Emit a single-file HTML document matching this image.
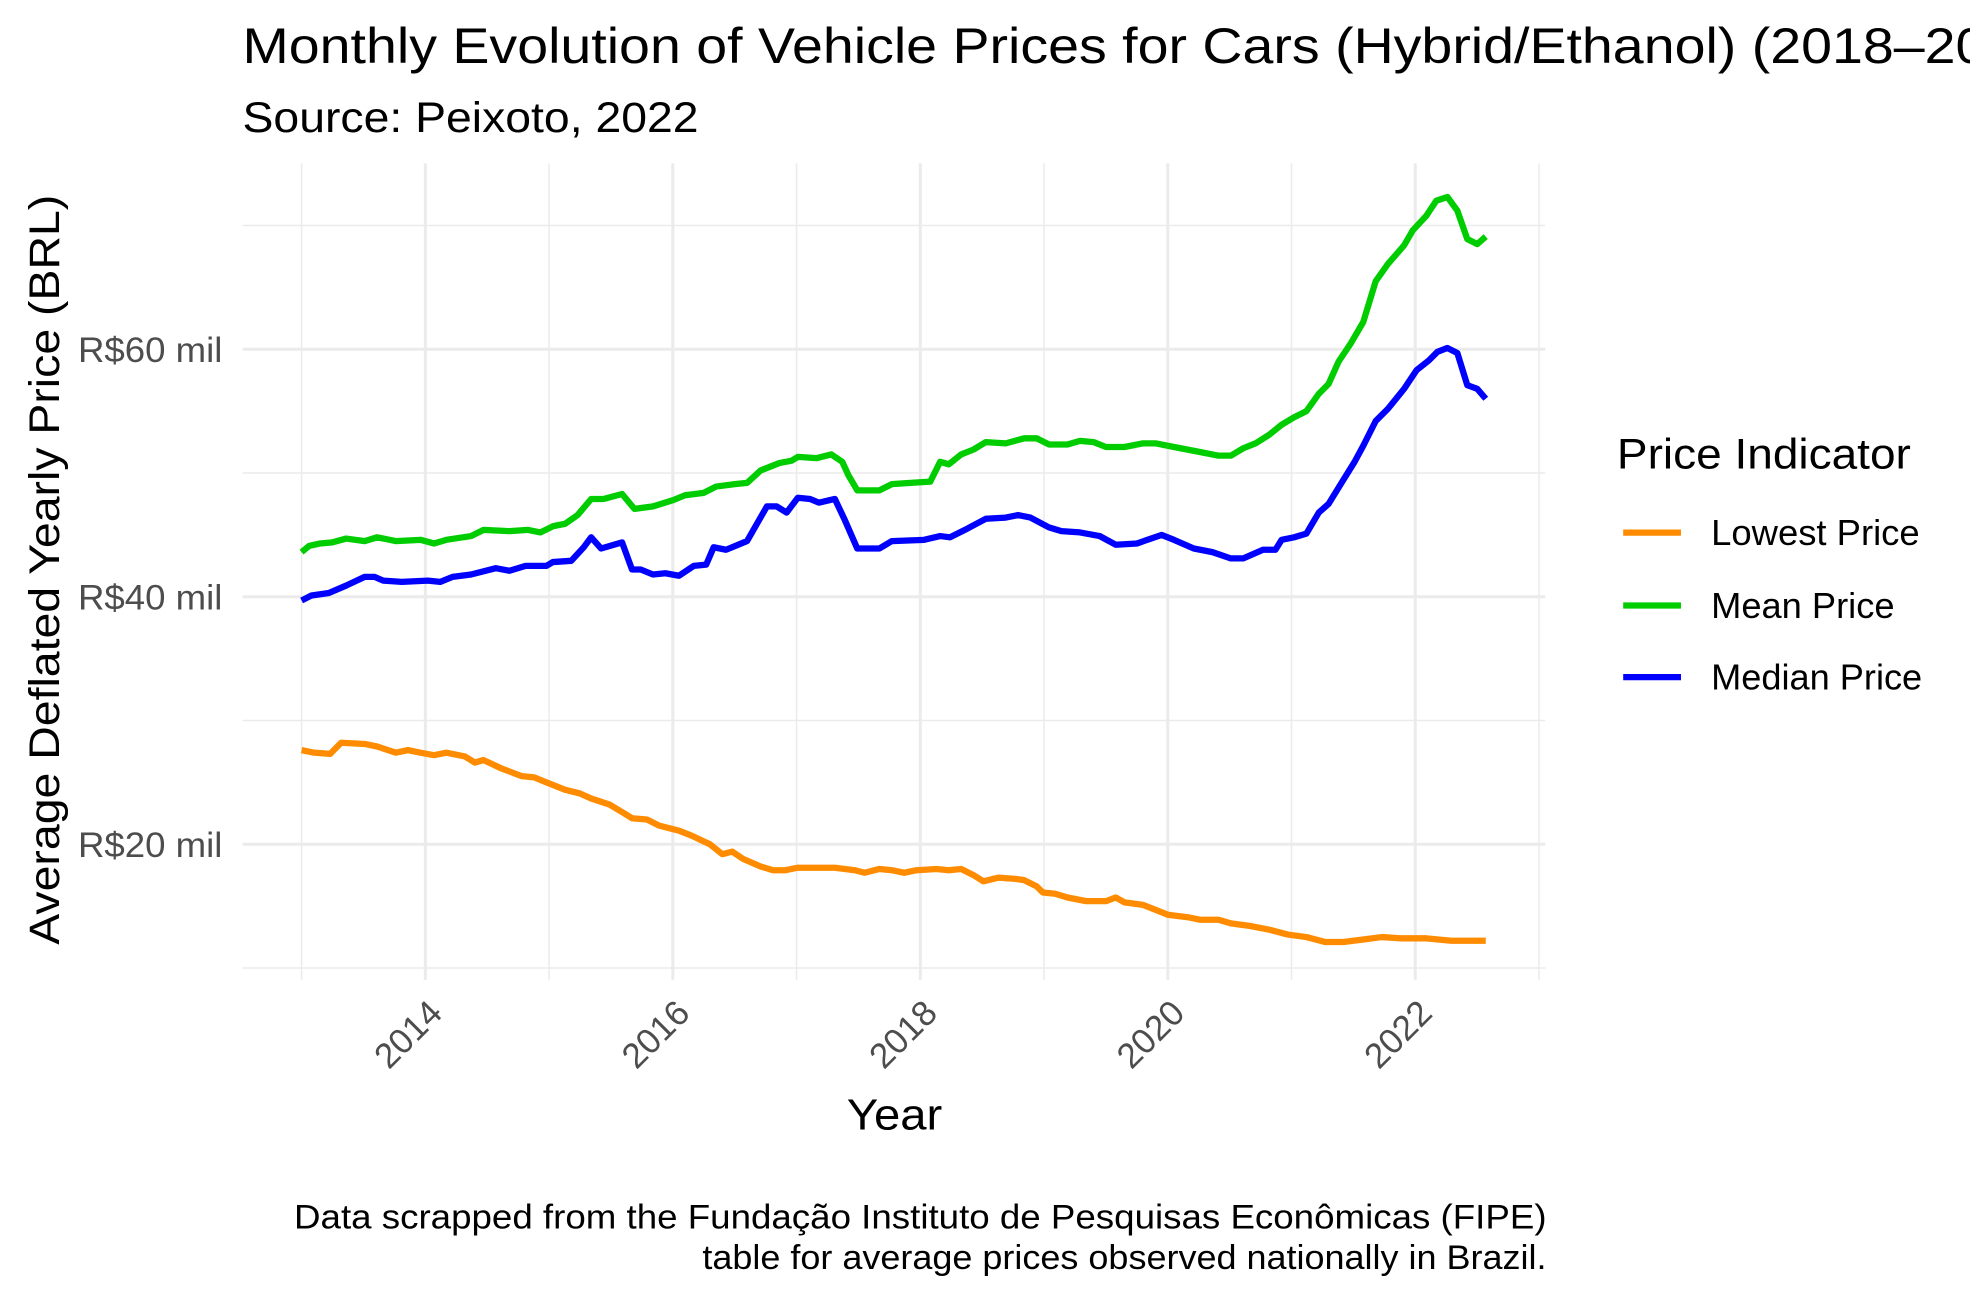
<!DOCTYPE html>
<html><head><meta charset="utf-8">
<style>
html,body{margin:0;padding:0;background:#fff;}
svg{display:block;font-family:"Liberation Sans",Arial,sans-serif;}
</style></head>
<body>
<svg id="chart" width="1970" height="1299" viewBox="0 0 1568 1034" xmlns="http://www.w3.org/2000/svg">
<rect width="1568" height="1034" fill="#fff"/>
<g id="grid"></g>
<g id="series"></g>
<g id="axes"></g>
<text x="193" y="50" font-size="40" fill="#000" textLength="1452" lengthAdjust="spacingAndGlyphs">Monthly Evolution of Vehicle Prices for Cars (Hybrid/Ethanol) (2018–2022)</text>
<text x="193" y="105" font-size="34" fill="#000" textLength="363" lengthAdjust="spacingAndGlyphs">Source: Peixoto, 2022</text>
<text x="674" y="899" font-size="35" fill="#000" textLength="76" lengthAdjust="spacingAndGlyphs">Year</text>
<text transform="translate(47,752) rotate(-90)" font-size="34" fill="#000" textLength="597" lengthAdjust="spacingAndGlyphs">Average Deflated Yearly Price (BRL)</text>
<text x="1287" y="373" font-size="34" fill="#000" textLength="234" lengthAdjust="spacingAndGlyphs">Price Indicator</text>
<g><line x1="1292" x2="1338" y1="424" y2="424" stroke="#FF8C00" stroke-width="5"/><text x="1362" y="434" font-size="29" textLength="166" lengthAdjust="spacingAndGlyphs">Lowest Price</text></g>
<g><line x1="1292" x2="1338" y1="482" y2="482" stroke="#00CD00" stroke-width="5"/><text x="1362" y="492" font-size="29" textLength="146" lengthAdjust="spacingAndGlyphs">Mean Price</text></g>
<g><line x1="1292" x2="1338" y1="539" y2="539" stroke="#0000FF" stroke-width="5"/><text x="1362" y="549" font-size="29" textLength="168" lengthAdjust="spacingAndGlyphs">Median Price</text></g>
<text x="234" y="978" font-size="27.5" fill="#000" textLength="997" lengthAdjust="spacingAndGlyphs">Data scrapped from the Fundação Instituto de Pesquisas Econômicas (FIPE)</text>
<text x="559" y="1010" font-size="27.5" fill="#000" textLength="672" lengthAdjust="spacingAndGlyphs">table for average prices observed nationally in Brazil.</text>
</svg>
<script>
// time in years since Jan 2013
const meanT=[0,.06,.15,.25,.36,.51,.61,.76,.96,1.07,1.17,1.37,1.47,1.68,1.83,1.93,2.03,2.13,2.23,2.34,2.44,2.59,2.69,2.84,3.0,3.1,3.25,3.35,3.5,3.6,3.71,3.86,3.96,4.01,4.16,4.28,4.37,4.42,4.49,4.67,4.77,4.92,5.08,5.16,5.23,5.33,5.43,5.53,5.69,5.84,5.94,6.04,6.19,6.29,6.4,6.5,6.65,6.8,6.9,7.05,7.26,7.41,7.51,7.61,7.71,7.82,7.92,8.02,8.12,8.22,8.3,8.38,8.48,8.58,8.68,8.78,8.91,8.98,9.09,9.17,9.26,9.34,9.42,9.5,9.57];
const meanV=[43.6,44.1,44.3,44.4,44.7,44.5,44.8,44.5,44.6,44.3,44.6,44.9,45.4,45.3,45.4,45.2,45.7,45.9,46.6,47.9,47.9,48.3,47.1,47.3,47.8,48.2,48.4,48.9,49.1,49.2,50.2,50.8,51.0,51.3,51.2,51.5,50.9,49.8,48.6,48.6,49.1,49.2,49.3,50.9,50.7,51.5,51.9,52.5,52.4,52.8,52.8,52.3,52.3,52.6,52.5,52.1,52.1,52.4,52.4,52.1,51.7,51.4,51.4,52.0,52.4,53.1,53.9,54.5,55.0,56.4,57.2,59.0,60.5,62.2,65.5,66.9,68.4,69.6,70.8,72.0,72.3,71.2,68.9,68.5,69.1];
const medianT=[0,.08,.22,.36,.51,.59,.66,.81,1.02,1.12,1.22,1.37,1.57,1.68,1.81,1.98,2.03,2.18,2.28,2.34,2.42,2.59,2.67,2.74,2.84,2.94,3.05,3.17,3.27,3.33,3.43,3.6,3.76,3.84,3.92,4.01,4.11,4.18,4.31,4.39,4.49,4.67,4.77,5.03,5.16,5.24,5.38,5.53,5.69,5.79,5.89,6.04,6.14,6.29,6.45,6.58,6.75,6.95,7.05,7.21,7.36,7.51,7.61,7.77,7.87,7.92,8.02,8.12,8.22,8.3,8.41,8.51,8.58,8.68,8.78,8.91,9.01,9.11,9.18,9.26,9.34,9.42,9.5,9.57];
const medianV=[39.7,40.1,40.3,40.9,41.6,41.6,41.3,41.2,41.3,41.2,41.6,41.8,42.3,42.1,42.5,42.5,42.8,42.9,44.0,44.8,43.9,44.4,42.2,42.2,41.8,41.9,41.7,42.5,42.6,44.0,43.8,44.5,47.3,47.3,46.8,48.0,47.9,47.6,47.9,46.2,43.9,43.9,44.5,44.6,44.9,44.8,45.5,46.3,46.4,46.6,46.4,45.6,45.3,45.2,44.9,44.2,44.3,45.0,44.6,43.9,43.6,43.1,43.1,43.8,43.8,44.6,44.8,45.1,46.8,47.5,49.3,50.9,52.2,54.2,55.2,56.8,58.3,59.1,59.8,60.1,59.7,57.1,56.8,56.0];
const lowT=[0,.1,.23,.32,.51,.61,.76,.86,.96,1.07,1.17,1.32,1.4,1.47,1.62,1.78,1.88,1.98,2.13,2.25,2.34,2.49,2.59,2.67,2.79,2.89,3.05,3.15,3.3,3.4,3.48,3.57,3.71,3.81,3.91,4.01,4.31,4.47,4.55,4.67,4.77,4.87,4.97,5.13,5.23,5.33,5.43,5.51,5.63,5.77,5.84,5.94,5.99,6.09,6.19,6.34,6.5,6.58,6.65,6.8,6.9,7.0,7.16,7.26,7.41,7.51,7.66,7.82,7.97,8.12,8.27,8.42,8.58,8.73,8.88,9.09,9.29,9.57];
const lowV=[27.6,27.4,27.3,28.2,28.1,27.9,27.4,27.6,27.4,27.2,27.4,27.1,26.6,26.8,26.1,25.5,25.4,25.0,24.4,24.1,23.7,23.2,22.6,22.1,22.0,21.5,21.1,20.7,20.0,19.2,19.4,18.8,18.2,17.9,17.9,18.1,18.1,17.9,17.7,18.0,17.9,17.7,17.9,18.0,17.9,18.0,17.5,17.0,17.3,17.2,17.1,16.6,16.1,16.0,15.7,15.4,15.4,15.7,15.3,15.1,14.7,14.3,14.1,13.9,13.9,13.6,13.4,13.1,12.7,12.5,12.1,12.1,12.3,12.5,12.4,12.4,12.2,12.2];
const yTicks=[20,40,60];
const yTickLabels=["R$20 mil","R$40 mil","R$60 mil"];
const yMinor=[10,30,50,70];
const xTicks=[2014,2016,2018,2020,2022];
const xMinor=[2013,2015,2017,2019,2021,2023];

const NS="http://www.w3.org/2000/svg";
const X=yr=>240+(yr-2013)*98.5;
const Y=v=>672-(v-20)*9.85;
function mk(tag,attrs,parent){const e=document.createElementNS(NS,tag);for(const k in attrs)e.setAttribute(k,attrs[k]);parent.appendChild(e);return e;}
const grid=document.getElementById('grid'),series=document.getElementById('series'),axes=document.getElementById('axes');
yMinor.forEach(v=>{const l=mk('line',{x1:193,x2:1230,y1:Y(v),y2:Y(v),stroke:'#ebebeb','stroke-width':1.2},grid);

});
xMinor.forEach(t=>{const l=mk('line',{x1:X(t),x2:X(t),y1:130,y2:780,stroke:'#ebebeb','stroke-width':1.2},grid);

});
yTicks.forEach((v,i)=>{const l=mk('line',{x1:193,x2:1230,y1:Y(v),y2:Y(v),stroke:'#ebebeb','stroke-width':2.4},grid);


const t=mk('text',{x:62,y:Y(v)+10,'font-size':28,fill:'#4d4d4d',textLength:115,lengthAdjust:'spacingAndGlyphs'},axes);t.textContent=yTickLabels[i];

});
xTicks.forEach(yr=>{const l=mk('line',{x1:X(yr),x2:X(yr),y1:130,y2:780,stroke:'#ebebeb','stroke-width':2.4},grid);


const t=mk('text',{transform:`translate(${X(yr)+15},808) rotate(-45)`,'text-anchor':'end','font-size':28,fill:'#4d4d4d'},axes);t.textContent=String(yr);

});
function draw(T,V,color,name){const d=T.map((t,i)=>(i?'L':'M')+X(2013+t).toFixed(1)+','+Y(V[i]).toFixed(1)).join('');
const p=mk('path',{d:d,fill:'none',stroke:color,'stroke-width':5,'stroke-linejoin':'round'},series);

}
draw(lowT,lowV,'#FF8C00','lowest-price-line');
draw(meanT,meanV,'#00CD00','mean-price-line');
draw(medianT,medianV,'#0000FF','median-price-line');
</script>
</body></html>
